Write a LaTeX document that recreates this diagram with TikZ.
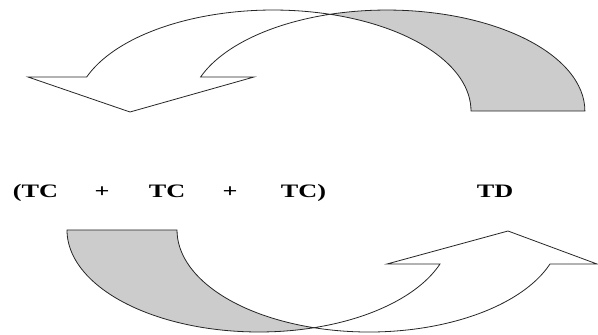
\documentclass[tikz,border=0pt]{standalone}
\usepackage{fontspec}
\setmainfont{Liberation Serif}
\newcommand{\widetxt}[1]{\scalebox{1.38}[1]{#1}}
\begin{document}
\begin{tikzpicture}[x=1pt,y=1pt,
    band/.style={draw=black!85, line width=0.8pt, line join=miter},
    backband/.style={band, fill=black!20},
    frontband/.style={band, fill=white},
    term/.style={font=\fontsize{19}{23}\selectfont\bfseries, inner sep=0pt, anchor=base}]
      \useasboundingbox (0,0) rectangle (598,335);
      % upper arrow (turns down to the left)
      \coordinate (topx) at (330,320.7);
      \filldraw[backband] (topx) arc[start angle=106.7, end angle=0, x radius=198, y radius=101]
        -- (471,224) arc[start angle=0, end angle=73.3, x radius=198, y radius=101] -- cycle;
      \filldraw[frontband] (topx) arc[start angle=73.3, end angle=160.33, x radius=198, y radius=101]
        -- (28,258) -- (130,223) -- (254,258) -- (200.6,258)
        arc[start angle=160.33, end angle=106.7, x radius=198, y radius=101] -- cycle;
      % lower arrow (turns up to the right)
      \coordinate (botx) at (314,7.3);
      \filldraw[backband] (67,105) arc[start angle=180, end angle=286.65, x radius=192, y radius=102]
        arc[start angle=253.35, end angle=180, x radius=192, y radius=102] -- cycle;
      \filldraw[frontband] (botx) arc[start angle=286.65, end angle=340.53, x radius=192, y radius=102]
        -- (387,71) -- (508,104) -- (597,71) -- (550,71)
        arc[start angle=340.53, end angle=253.35, x radius=192, y radius=102] -- cycle;
      % terms
      \node[term] (tc1) at (35.5,137) {\widetxt{(TC}};
      \node[term] (plus1) at (102,137) {\widetxt{+}};
      \node[term] (tc2) at (167,137) {\widetxt{TC}};
      \node[term] (plus2) at (230,137) {\widetxt{+}};
      \node[term] (tc3) at (303.5,137) {\widetxt{TC)}};
      \node[term] (td) at (495,137) {\widetxt{TD}};
    \end{tikzpicture}
\end{document}
